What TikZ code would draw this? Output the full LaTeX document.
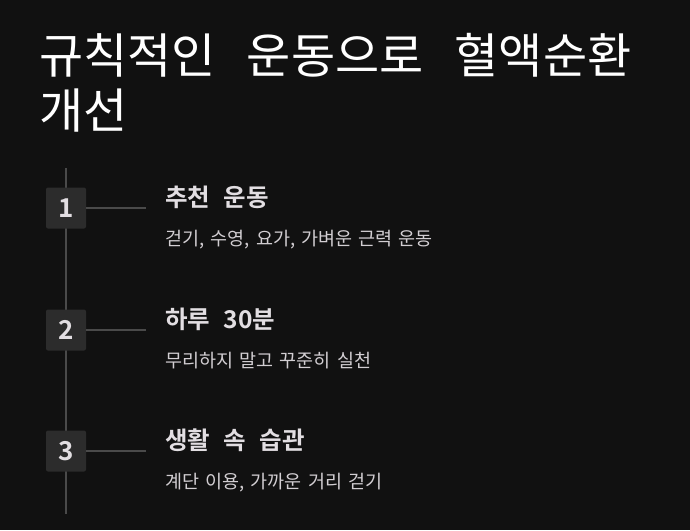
\documentclass[tikz,border=0pt]{standalone}
\usepackage{fontspec}
\setmainfont{Noto Sans CJK KR}[WordSpace=1.5]
\newfontfamily\titlefont{Noto Sans CJK KR}[WordSpace=2.9]
\newfontfamily\headfont{Noto Sans CJK KR}[UprightFont=* Bold, WordSpace=2.4]
\usetikzlibrary{positioning}

\definecolor{bgdark}{HTML}{111111}
\definecolor{railgray}{HTML}{4A4A4A}
\definecolor{boxgray}{HTML}{2C2C2C}
\definecolor{headgray}{HTML}{E2DEE2}
\definecolor{subgray}{HTML}{D2CED2}

\tikzset{
  rail/.style={draw=railgray, line width=1.6pt},
  numbox/.style={fill=boxgray, rounded corners=2pt, minimum width=40pt, minimum height=41pt,
    inner sep=0pt, text=headgray, font=\headfont\fontsize{26}{30}\selectfont},
  headtxt/.style={anchor=base west, inner sep=0pt, text=headgray, font=\headfont\fontsize{24.5}{28}\selectfont},
  subtxt/.style={anchor=base west, inner sep=0pt, text=subgray, font=\fontsize{18.5}{22}\selectfont},
  titletxt/.style={anchor=base west, inner sep=0pt, text=white, font=\titlefont\fontsize{48}{55}\selectfont}
}

\begin{document}
\begin{tikzpicture}[x=1pt, y=-1pt]
  \fill[bgdark] (0,0) rectangle (690,530);
  \useasboundingbox (0,0) rectangle (690,530);

  % title
  \node[titletxt] (title1) at (39,73) {규칙적인 운동으로 혈액순환};
  \node[titletxt] (title2) at (39,128) {개선};

  % timeline
  \coordinate (railtop) at (66,168);
  \coordinate (railbot) at (66,514);
  \draw[rail] (railtop) -- (railbot);

  \foreach \i/\y/\head/\sub in {1/208/{추천 운동}/{걷기, 수영, 요가, 가벼운 근력 운동},
                               2/330/{하루 30분}/{무리하지 말고 꾸준히 실천},
                               3/451/{생활 속 습관}/{계단 이용, 가까운 거리 걷기}} {
    \node[numbox] (box\i) at (66,\y) {\i};
    \coordinate (tick\i) at (146,\y);
    \draw[rail] (box\i.east) -- (tick\i);
    \node[headtxt] (head\i) at (165,{\y-2}) {\head};
    \node[subtxt] (sub\i) at (165,{\y+37}) {\sub};
  }
\end{tikzpicture}
\end{document}
